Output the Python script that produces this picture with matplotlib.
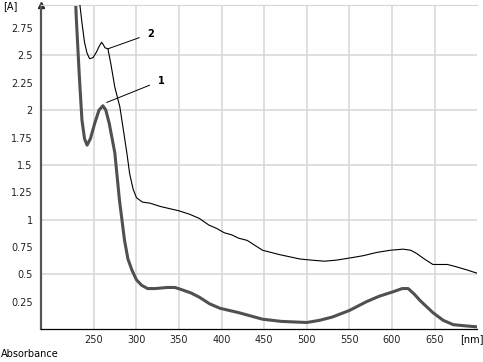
# Absorbansspektra, två prover
import matplotlib
matplotlib.use('Agg')
import matplotlib.pyplot as plt

# kurva 1 (tjock), våglängd [nm] och absorbans
nm1 = [228.5, 229.5, 233, 236, 239, 242, 246, 251, 256, 260.6, 264, 268, 274.6, 280, 286, 290, 294.6,
       300, 306, 313, 322, 336, 345, 353, 364, 374, 386, 398, 420, 448, 470, 500, 515, 530, 550,
       570, 585, 601, 612, 619, 626, 633, 648, 660, 672, 685, 700]
abs1 = [3.0, 2.82, 2.3, 1.91, 1.74, 1.68, 1.74, 1.88, 2.0, 2.04, 2.0, 1.88, 1.61, 1.18, 0.81, 0.64, 0.54,
        0.45, 0.40, 0.37, 0.37, 0.38, 0.38, 0.36, 0.33, 0.29, 0.23, 0.19, 0.15, 0.09, 0.07, 0.06, 0.08, 0.11, 0.17,
        0.25, 0.30, 0.34, 0.37, 0.37, 0.32, 0.26, 0.15, 0.08, 0.04, 0.03, 0.02]

# kurva 2 (tunn)
nm2 = [233, 236, 239, 242, 245, 249, 253, 256, 259, 261, 263, 266.5, 270, 274.6, 280.5, 285, 288.7,
       292, 296, 300, 307, 316, 328, 339, 350, 362, 374, 385, 394, 403, 412, 420, 430, 440, 448,
       458, 468, 480, 492, 505, 521, 535, 551, 566, 582, 598, 613, 622, 629, 638, 648, 656, 665,
       675, 688, 700]
abs2 = [3.0, 2.8, 2.62, 2.52, 2.47, 2.48, 2.53, 2.58, 2.62, 2.6, 2.57, 2.56, 2.42, 2.21, 2.03, 1.8, 1.61,
        1.42, 1.28, 1.2, 1.16, 1.15, 1.12, 1.10, 1.08, 1.05, 1.01, 0.95, 0.92, 0.88, 0.86, 0.83, 0.81, 0.76, 0.72,
        0.70, 0.68, 0.66, 0.64, 0.63, 0.62, 0.63, 0.65, 0.67, 0.70, 0.72, 0.73, 0.72, 0.69, 0.64, 0.59, 0.59, 0.59,
        0.57, 0.54, 0.51]

xticks = [250, 300, 350, 400, 450, 500, 550, 600, 650]
yticks = [0.25, 0.5, 0.75, 1, 1.25, 1.5, 1.75, 2, 2.25, 2.5, 2.75]
ylabels = ['0.25', '0.5', '0.75', '1', '1.25', '1.5', '1.75', '2', '2.25', '2.5', '2.75']
hgrid = [0.5, 1, 1.5, 2, 2.5]

fig = plt.figure(figsize=(4.83, 3.62), dpi=100)
ax = fig.add_axes([0.085, 0.091, 0.903, 0.895])

# rutnät
for x in xticks:
    ax.axvline(x, color='#d6d6d6', lw=1.1, zorder=0)
for y in hgrid:
    ax.axhline(y, color='#d6d6d6', lw=1.1, zorder=0)

ax.plot(nm2, abs2, color='black', lw=0.8, zorder=3)
ax.plot(nm1, abs1, color='#505050', lw=2.2, zorder=2)

ax.set_xlim(188, 700)
ax.set_ylim(0, 2.96)

ax.set_xticks(xticks)
ax.set_xticklabels([str(x) for x in xticks])
ax.set_yticks(yticks)
ax.set_yticklabels(ylabels)
ax.tick_params(axis='both', length=0, labelsize=7, colors='#222222')
ax.tick_params(axis='y', pad=6)
ax.tick_params(axis='x', pad=4)

# axlar
ax.spines['top'].set_color('#d6d6d6')
ax.spines['right'].set_visible(False)
ax.spines['left'].set_color('#555555')
ax.spines['left'].set_linewidth(1.6)
ax.spines['bottom'].set_color('black')
ax.spines['bottom'].set_linewidth(0.9)
ax.plot(0, 1, marker='^', color='#222222', ms=4, transform=ax.transAxes, clip_on=False)

# etiketter för kurvorna
ax.annotate('2', xy=(266.4, 2.56), xytext=(313, 2.70), fontsize=7, fontweight='bold',
            va='center', ha='left', bbox=dict(fc='white', ec='none', pad=4),
            arrowprops=dict(arrowstyle='-', color='black', lw=0.7, shrinkA=2, shrinkB=0))
ax.annotate('1', xy=(265, 2.07), xytext=(325, 2.27), fontsize=7, fontweight='bold',
            va='center', ha='left', bbox=dict(fc='white', ec='none', pad=4),
            arrowprops=dict(arrowstyle='-', color='black', lw=0.7, shrinkA=2, shrinkB=0))

fig.text(0.006, 0.983, '[A]', fontsize=7, va='center', ha='left')
fig.text(0.977, 0.064, '[nm]', fontsize=7, va='center', ha='center')
fig.text(0.002, 0.022, 'Absorbance', fontsize=7, va='center', ha='left')

fig.savefig('out.png', dpi=100)
